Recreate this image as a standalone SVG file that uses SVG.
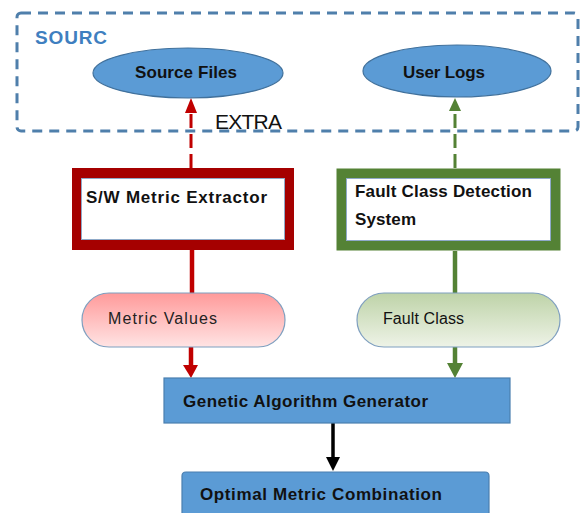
<svg xmlns="http://www.w3.org/2000/svg" width="584" height="513" viewBox="0 0 584 513">
<defs>
<style>
.t{font-family:"Liberation Sans",Arial,sans-serif;fill:#111;}
.b{font-weight:bold;}
.ell{fill:#5b9bd5;stroke:#41719c;stroke-width:1.2;}
.blue{fill:#5b9bd5;stroke:#4a7fb0;stroke-width:1.2;}
</style>
<linearGradient id="gRed" x1="0" y1="0" x2="0" y2="1">
<stop offset="0" stop-color="#ff9a9a"/>
<stop offset="1" stop-color="#ffe4e4"/>
</linearGradient>
<linearGradient id="gGreen" x1="0" y1="0" x2="0" y2="1">
<stop offset="0" stop-color="#bed3a8"/>
<stop offset="1" stop-color="#eef3e7"/>
</linearGradient>
</defs>

<g id="source-group">
<rect x="17" y="13" width="561" height="118" rx="4" fill="none" stroke="#4f7fab" stroke-width="3" stroke-dasharray="10 7"/>
<text class="t b" x="35" y="44" font-size="19" style="fill:#3f7fc0" textLength="72">SOURC</text>
</g>

<g id="extra-label">
<text class="t" x="215" y="129" font-size="21" textLength="67">EXTRA</text>
</g>

<g id="connectors">
<line x1="191" y1="168" x2="191" y2="112" stroke="#c00000" stroke-width="3" stroke-dasharray="14 6"/>
<path d="M185,113 L191,98 L197,113 Z" fill="#c00000"/>
<line x1="455" y1="168" x2="455" y2="110" stroke="#548235" stroke-width="3" stroke-dasharray="14 6"/>
<path d="M449,111 L455,98 L461,111 Z" fill="#548235"/>
<line x1="192" y1="250" x2="192" y2="293" stroke="#c00000" stroke-width="4.5"/>
<line x1="191" y1="347" x2="191" y2="366" stroke="#c00000" stroke-width="4.5"/>
<path d="M183,365 L191,378 L198,365 Z" fill="#c00000"/>
<line x1="455" y1="251" x2="455" y2="293" stroke="#548235" stroke-width="4.5"/>
<line x1="455" y1="347" x2="455" y2="364" stroke="#548235" stroke-width="4.5"/>
<path d="M447,363 L455,378 L463,363 Z" fill="#548235"/>
<line x1="333" y1="423" x2="333" y2="458" stroke="#000" stroke-width="3.5"/>
<path d="M326,457 L333,471 L340,457 Z" fill="#000"/>
</g>

<g id="source-files">
<ellipse class="ell" cx="188" cy="73" rx="95" ry="25"/>
<text class="t b" x="186" y="78" font-size="17" text-anchor="middle" textLength="102">Source Files</text>
</g>

<g id="user-logs">
<ellipse class="ell" cx="457" cy="71" rx="94" ry="26"/>
<text class="t b" x="444" y="78" font-size="17" text-anchor="middle" textLength="82">User Logs</text>
</g>

<g id="sw-metric-extractor">
<rect x="77" y="173" width="212" height="72" fill="#fff" stroke="#a50000" stroke-width="10"/>
<rect x="81.5" y="178.5" width="203" height="61" fill="none" stroke="#8fa9c8" stroke-width="1"/>
<text class="t b" x="86" y="203" font-size="17" textLength="181">S/W Metric Extractor</text>
</g>

<g id="fault-class-detection">
<rect x="341.5" y="173.5" width="214" height="72" fill="#fff" stroke="#548235" stroke-width="10"/>
<rect x="346.5" y="178.5" width="204" height="62" fill="none" stroke="#8fa9c8" stroke-width="1"/>
<text class="t b" x="355" y="197" font-size="17" textLength="177">Fault Class Detection</text>
<text class="t b" x="355" y="225" font-size="17" textLength="61">System</text>
</g>

<g id="metric-values">
<rect x="82" y="293" width="203" height="54" rx="27" fill="url(#gRed)" stroke="#7f9fbf" stroke-width="1.2"/>
<text class="t" x="108" y="324" font-size="16" style="fill:#222" textLength="109">Metric Values</text>
</g>

<g id="fault-class">
<rect x="357" y="293" width="203" height="54" rx="27" fill="url(#gGreen)" stroke="#7f9fbf" stroke-width="1.2"/>
<text class="t" x="383" y="324" font-size="16" textLength="81">Fault Class</text>
</g>

<g id="genetic-algorithm-generator">
<rect class="blue" x="164" y="378" width="346" height="45"/>
<text class="t b" x="183" y="407" font-size="17" textLength="245">Genetic Algorithm  Generator</text>
</g>

<g id="optimal-metric-combination">
<path class="blue" d="M182,520 L182,476 Q182,472 186,472 L485,472 Q489,472 489,476 L489,520 Z"/>
<text class="t b" x="200" y="500" font-size="17" textLength="242">Optimal Metric Combination</text>
</g>
</svg>
